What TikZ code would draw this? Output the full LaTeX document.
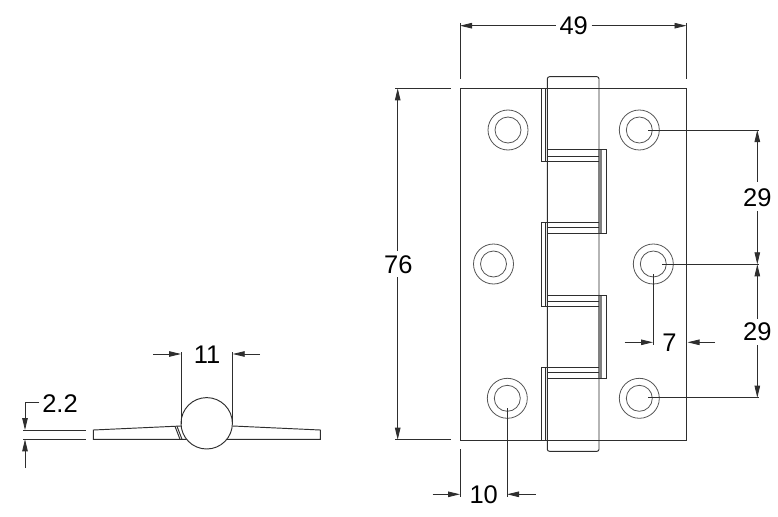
\documentclass[tikz,border=0pt]{standalone}
\usepackage{fontspec}
\setmainfont{Liberation Sans}
\usetikzlibrary{arrows.meta}
\definecolor{inkline}{HTML}{2E2E2E}
\definecolor{holeline}{HTML}{555555}
\tikzset{
	part/.style={draw=inkline, line width=0.95pt},
	hole/.style={draw=holeline, line width=0.8pt},
	dim/.style={draw=inkline, line width=0.85pt},
	dimarrow/.style={dim, -{Stealth[length=12pt,width=5.5pt,inset=0pt]}},
	label/.style={inner sep=0, text=black, font=\fontsize{25.5}{27}\selectfont}
}
\begin{document}
\begin{tikzpicture}[x=1pt, y=-1pt]
		\useasboundingbox (0,0) rectangle (778,516);
		% plate
		\draw[part] (460,88.3) rectangle (686.7,440);
		% knuckle
		\draw[part] (547.3,88.3) -- (547.3,79) to[out=90,in=180] (549.5,76.7) -- (597,76.7) to[out=0,in=90] (599,79) -- (599,449.3) to[out=-90,in=0] (597,451.3) -- (549.5,451.3) to[out=180,in=-90] (547.3,449.3) -- cycle;
		% leaves on the left
		\draw[part] (541.3,88.3) rectangle (547.3,161.3);
		\draw[part] (545.5,88.3) -- (545.5,161.3);
		\draw[part] (541.3,222.7) rectangle (547.3,306);
		\draw[part] (545.5,222.7) -- (545.5,306);
		\draw[part] (541.3,367.7) rectangle (547.3,440);
		\draw[part] (545.5,367.7) -- (545.5,440);
		% leaves on the right
		\fill[gray] (598.3,149.3) rectangle (602.3,233.3);
		\draw[part] (598.3,149.3) -- (606.3,149.3) -- (606.3,233.3) -- (598.3,233.3);
		\fill[gray] (598.3,295) rectangle (602.3,378.3);
		\draw[part] (598.3,295) -- (606.3,295) -- (606.3,378.3) -- (598.3,378.3);
		% knuckle joints
		\draw[part] (547.3,149.3) -- (599,149.3);
		\draw[part] (547.3,156) -- (599,156);
		\draw[part] (541.3,161.3) -- (599,161.3);
		\draw[part] (541.3,222.7) -- (599,222.7);
		\draw[part] (547.3,227.3) -- (599,227.3);
		\draw[part] (547.3,233.3) -- (599,233.3);
		\draw[part] (547.3,295) -- (599,295);
		\draw[part] (547.3,301) -- (599,301);
		\draw[part] (541.3,306) -- (599,306);
		\draw[part] (541.3,367.7) -- (599,367.7);
		\draw[part] (547.3,372.7) -- (599,372.7);
		\draw[part] (547.3,378.3) -- (599,378.3);
		% holes
		\draw[hole] (508,130) circle (20);
		\draw[hole] (508,130) circle (13);
		\draw[hole] (639.3,130) circle (20);
		\draw[hole] (639.3,130) circle (13);
		\draw[hole] (493.5,264) circle (20);
		\draw[hole] (493.5,264) circle (13);
		\draw[hole] (653.3,264) circle (20);
		\draw[hole] (653.3,264) circle (13);
		\draw[hole] (507.3,398.3) circle (20);
		\draw[hole] (507.3,398.3) circle (13);
		\draw[hole] (639.3,398.3) circle (20);
		\draw[hole] (639.3,398.3) circle (13);
		%%%%%%%%%%%%%%%%%%%%%%%%%%%%%%%%%%%%%
		\node (W) at (573.7,26) [label] {49};
		\coordinate (W1) at (460,23);
		\coordinate (W2) at (460,79);
		\coordinate (W3) at (686.5,23);
		\coordinate (W4) at (686.5,79);
		\coordinate (W5) at (555.7,25.7);
		\coordinate (W6) at (460,25.7);
		\coordinate (W7) at (591.7,25.7);
		\coordinate (W8) at (686.5,25.7);
		\draw[dim] (W1) to (W2);
		\draw[dim] (W3) to (W4);
		\draw[dimarrow] (W5) to (W6);
		\draw[dimarrow] (W7) to (W8);
		
		\node (H) at (398.3,264.3) [label] {76};
		\coordinate (H1) at (395,88.3);
		\coordinate (H2) at (451,88.3);
		\coordinate (H3) at (395,439.7);
		\coordinate (H4) at (451,439.7);
		\coordinate (H5) at (397.7,251);
		\coordinate (H6) at (397.7,88.3);
		\coordinate (H7) at (397.7,277);
		\coordinate (H8) at (397.7,439.7);
		\draw[dim] (H1) to (H2);
		\draw[dim] (H3) to (H4);
		\draw[dimarrow] (H5) to (H6);
		\draw[dimarrow] (H7) to (H8);
		
		\node (U) at (757.3,198) [label] {29};
		\node (V) at (757.3,331.7) [label] {29};
		\coordinate (U1) at (648,130);
		\coordinate (U2) at (759,130);
		\coordinate (U3) at (662,264.3);
		\coordinate (U4) at (759,264.3);
		\coordinate (U5) at (648,397.7);
		\coordinate (U6) at (759,397.7);
		\coordinate (U7) at (757.3,181.7);
		\coordinate (U8) at (757.3,130);
		\coordinate (U9) at (757.3,211);
		\coordinate (U10) at (757.3,264.3);
		\coordinate (V1) at (757.3,319);
		\coordinate (V2) at (757.3,264.3);
		\coordinate (V3) at (757.3,345);
		\coordinate (V4) at (757.3,397.7);
		\draw[dim] (U1) to (U2);
		\draw[dim] (U3) to (U4);
		\draw[dim] (U5) to (U6);
		\draw[dimarrow] (U7) to (U8);
		\draw[dimarrow] (U9) to (U10);
		\draw[dimarrow] (V1) to (V2);
		\draw[dimarrow] (V3) to (V4);
		
		\node (S) at (669.5,342.5) [label] {7};
		\coordinate (S1) at (653,274);
		\coordinate (S2) at (653,345);
		\coordinate (S3) at (624.7,342.3);
		\coordinate (S4) at (653,342.3);
		\coordinate (S5) at (715,342.3);
		\coordinate (S6) at (687.5,342.3);
		\draw[dim] (S1) to (S2);
		\draw[dimarrow] (S3) to (S4);
		\draw[dimarrow] (S5) to (S6);
		
		\node (T) at (483.7,495) [label] {10};
		\coordinate (T1) at (460,449);
		\coordinate (T2) at (460,496.7);
		\coordinate (T3) at (507,408);
		\coordinate (T4) at (507,496.7);
		\coordinate (T5) at (432.7,494.3);
		\coordinate (T6) at (460,494.3);
		\coordinate (T7) at (535.7,494.3);
		\coordinate (T8) at (507,494.3);
		\draw[dim] (T1) to (T2);
		\draw[dim] (T3) to (T4);
		\draw[dimarrow] (T5) to (T6);
		\draw[dimarrow] (T7) to (T8);
		%%%%%%%%%%%%%%%%%%%%%%%%%%%%%%%%%%%%%
		% side view
		\draw[part] (206.7,423.3) circle (25.7);
		\draw[part] (186.6,439.3) -- (93.3,439.3) -- (93.3,430) -- (181,426);
		\draw[part] (226.8,439.3) -- (320.3,439.3) -- (320.3,430) -- (232.7,426);
		\draw[part] (175,426.3) -- (180,439.3);
		\draw[part] (177,426.3) -- (182,439.3);
		
		\node (D) at (207,354.5) [label] {11};
		\coordinate (D1) at (181,352);
		\coordinate (D2) at (181,424);
		\coordinate (D3) at (232.7,352);
		\coordinate (D4) at (232.7,424);
		\coordinate (D5) at (153,354);
		\coordinate (D6) at (181,354);
		\coordinate (D7) at (260,354);
		\coordinate (D8) at (232.7,354);
		\draw[dim] (D1) to (D2);
		\draw[dim] (D3) to (D4);
		\draw[dimarrow] (D5) to (D6);
		\draw[dimarrow] (D7) to (D8);
		
		\node (G) at (60,403.5) [label] {2.2};
		\coordinate (G1) at (23,430);
		\coordinate (G2) at (86,430);
		\coordinate (G3) at (23,439.3);
		\coordinate (G4) at (86,439.3);
		\coordinate (G5) at (39.3,402);
		\coordinate (G6) at (25,402);
		\coordinate (G7) at (25,430);
		\coordinate (G8) at (25,468);
		\coordinate (G9) at (25,439.3);
		\draw[dim] (G1) to (G2);
		\draw[dim] (G3) to (G4);
		\draw[dimarrow] (G5) -- (G6) -- (G7);
		\draw[dimarrow] (G8) to (G9);
	\end{tikzpicture}
\end{document}
